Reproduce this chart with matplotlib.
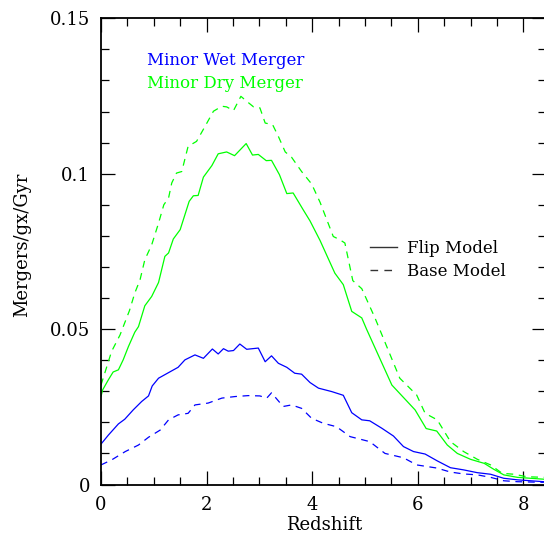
import matplotlib
matplotlib.use("Agg")
import matplotlib.pyplot as plt
from matplotlib.lines import Line2D
from matplotlib.ticker import MultipleLocator

plt.rcParams['font.family'] = ['DejaVu Serif']

# Minor wet merger, Flip model (blue solid)
wet_flip_z = [0, 0.14, 0.33, 0.45, 0.61, 0.77, 0.90, 0.97, 1.09, 1.28, 1.46, 1.59, 1.78, 1.94,
              2.11, 2.22, 2.32, 2.41, 2.51, 2.63, 2.76, 2.98, 3.11, 3.23, 3.36, 3.52, 3.67, 3.80,
              3.96, 4.12, 4.37, 4.59, 4.75, 4.94, 5.09, 5.32, 5.54, 5.73, 5.92, 6.14, 6.37, 6.62,
              6.87, 7.13, 7.38, 7.63, 7.89, 8.14, 8.39]
wet_flip_v = [0.0130, 0.0159, 0.0195, 0.0210, 0.0240, 0.0267, 0.0285, 0.0317, 0.0342, 0.0360,
              0.0377, 0.0401, 0.0417, 0.0406, 0.0436, 0.0420, 0.0437, 0.0429, 0.0431, 0.0452,
              0.0435, 0.0439, 0.0395, 0.0414, 0.0390, 0.0377, 0.0358, 0.0355, 0.0328, 0.0310,
              0.0299, 0.0287, 0.0231, 0.0208, 0.0205, 0.0181, 0.0156, 0.0122, 0.0106, 0.0098,
              0.0076, 0.0054, 0.0047, 0.0038, 0.0033, 0.0020, 0.0015, 0.0012, 0.0009]

# Minor wet merger, Base model (blue dashed)
wet_base_z = [0, 0.2, 0.46, 0.71, 0.90, 1.12, 1.28, 1.46, 1.65, 1.78, 2.03, 2.29, 2.54, 2.79,
              3.01, 3.14, 3.23, 3.45, 3.61, 3.80, 3.99, 4.21, 4.46, 4.72, 5.09, 5.38, 5.73,
              5.98, 6.36, 6.62, 6.87, 7.13, 7.38, 7.63, 7.89, 8.39]
wet_base_v = [0.0063, 0.0079, 0.0106, 0.0127, 0.0152, 0.0175, 0.0208, 0.0224, 0.0229, 0.0256,
              0.0262, 0.0278, 0.0283, 0.0286, 0.0285, 0.0278, 0.0295, 0.0251, 0.0256, 0.0245,
              0.0213, 0.0197, 0.0186, 0.0154, 0.0138, 0.0100, 0.0086, 0.0063, 0.0053, 0.0040,
              0.0034, 0.0031, 0.0023, 0.0012, 0.0009, 0.0007]

# Minor dry merger, Flip model (green solid)
dry_flip_z = [0, 0.03, 0.14, 0.23, 0.33, 0.42, 0.52, 0.64, 0.71, 0.83, 0.96, 1.09, 1.21, 1.28,
              1.37, 1.50, 1.67, 1.75, 1.84, 1.94, 2.10, 2.22, 2.38, 2.53, 2.75, 2.87, 2.98,
              3.13, 3.23, 3.38, 3.52, 3.64, 3.83, 3.96, 4.15, 4.43, 4.59, 4.75, 4.94, 5.03,
              5.51, 5.95, 6.16, 6.36, 6.56, 6.75, 7.00, 7.26, 7.44, 7.63, 7.89, 8.14, 8.39]
dry_flip_v = [0.0283, 0.0304, 0.0337, 0.0362, 0.0369, 0.0401, 0.0444, 0.0490, 0.0508, 0.0575,
              0.0605, 0.0650, 0.0734, 0.0745, 0.0790, 0.0820, 0.0911, 0.0929, 0.0930, 0.0989,
              0.1026, 0.1064, 0.1070, 0.1058, 0.1097, 0.1060, 0.1062, 0.1042, 0.1043, 0.0997,
              0.0936, 0.0938, 0.0884, 0.0848, 0.0785, 0.0680, 0.0643, 0.0557, 0.0536, 0.0500,
              0.0320, 0.0240, 0.0180, 0.0172, 0.0127, 0.0100, 0.0081, 0.0068, 0.0049, 0.0031,
              0.0023, 0.0020, 0.0017]

# Minor dry merger, Base model (green dashed)
dry_base_z = [0, 0.08, 0.2, 0.36, 0.54, 0.64, 0.74, 0.83, 0.96, 1.09, 1.19, 1.28, 1.34, 1.43,
              1.53, 1.65, 1.81, 1.97, 2.13, 2.29, 2.38, 2.51, 2.65, 2.76, 2.89, 3.01, 3.11,
              3.25, 3.36, 3.49, 3.61, 3.80, 3.99, 4.15, 4.40, 4.53, 4.62, 4.77, 4.94, 5.19,
              5.66, 5.98, 6.14, 6.37, 6.62, 6.87, 7.13, 7.38, 7.60, 7.82, 8.07, 8.39]
dry_base_v = [0.0320, 0.0363, 0.0428, 0.0481, 0.0560, 0.0616, 0.0659, 0.0723, 0.0771, 0.0841,
              0.0900, 0.0922, 0.0970, 0.1002, 0.1007, 0.1088, 0.1104, 0.1152, 0.1201, 0.1217,
              0.1215, 0.1203, 0.1249, 0.1233, 0.1215, 0.1212, 0.1163, 0.1158, 0.1120, 0.1070,
              0.1053, 0.1007, 0.0967, 0.0908, 0.0798, 0.0787, 0.0777, 0.0656, 0.0630, 0.0536,
              0.0342, 0.0288, 0.0229, 0.0208, 0.0138, 0.0106, 0.0081, 0.0063, 0.0036, 0.0033,
              0.0025, 0.0023]

series_labels = ["Minor Wet Merger", "Minor Dry Merger"]
model_labels = ["Flip Model", "Base Model"]
xlabel = "Redshift"
ylabel = "Mergers/gx/Gyr"

BLUE = "#0000ff"
GREEN = "#00ff00"
W, H = 544, 538

fig = plt.figure(figsize=(W / 100, H / 100), dpi=100)
ax = fig.add_axes([101 / W, 53.5 / H, 445 / W, 466.2 / H])

lw = 0.9
dash = (5.5, 4.5)
ax.plot(dry_base_z, dry_base_v, color=GREEN, lw=lw, dashes=dash)
ax.plot(dry_flip_z, dry_flip_v, color=GREEN, lw=lw)
ax.plot(wet_base_z, wet_base_v, color=BLUE, lw=lw, dashes=dash)
ax.plot(wet_flip_z, wet_flip_v, color=BLUE, lw=lw)

ax.set_xlim(0, 8.43)
ax.set_ylim(0, 0.15)
ax.xaxis.set_major_locator(MultipleLocator(2))
ax.xaxis.set_minor_locator(MultipleLocator(0.5))
ax.yaxis.set_major_locator(MultipleLocator(0.05))
ax.yaxis.set_minor_locator(MultipleLocator(0.01))


def fmt_y(v, pos):
    if abs(v) < 1e-9:
        return "0"
    return ("%.2f" % v).rstrip("0")


def fmt_x(v, pos):
    return "%d" % round(v)


ax.yaxis.set_major_formatter(plt.FuncFormatter(fmt_y))
ax.xaxis.set_major_formatter(plt.FuncFormatter(fmt_x))
ax.tick_params(which="both", direction="in", top=True, right=True, colors="black",
               labelsize=13, width=0.9)
ax.tick_params(which="major", length=10, pad=8)
ax.tick_params(which="minor", length=5.5)
for s in ax.spines.values():
    s.set_linewidth(1.3)
ax.spines['right'].set_visible(False)

fig.text(324 / W, 1 - 525 / H, xlabel, ha="center", va="center", fontsize=13)
fig.text(22 / W, 1 - 245 / H, ylabel, ha="center", va="center", rotation=90, fontsize=13)

fig.text(147 / W, 1 - 65 / H, series_labels[0], color=BLUE, fontsize=12, va="baseline")
fig.text(147 / W, 1 - 88 / H, series_labels[1], color=GREEN, fontsize=12, va="baseline")

for i, (lab, ls) in enumerate(zip(model_labels, ["-", "--"])):
    yl = 247.3 + i * 23
    ln = Line2D([370 / W, 397 / W], [1 - yl / H, 1 - yl / H], transform=fig.transFigure,
                color="#333333", lw=1.0)
    if ls == "--":
        ln.set_dashes(dash)
    fig.add_artist(ln)
    fig.text(407 / W, 1 - (yl + 5.5) / H, lab, fontsize=12, va="baseline")

fig.savefig("out.png", dpi=100)
